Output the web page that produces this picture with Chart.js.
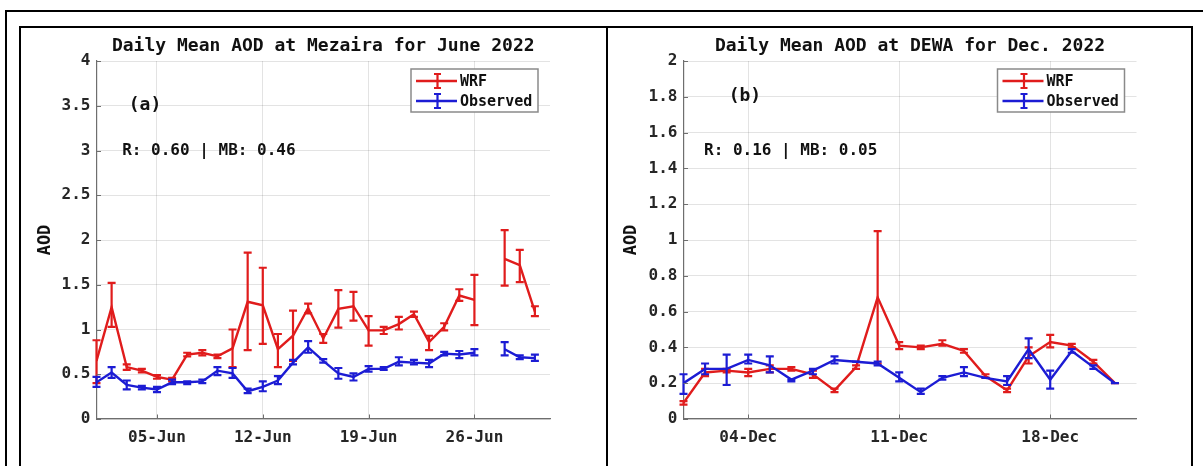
<!DOCTYPE html>
<html>
<head>
<meta charset="utf-8">
<script src="https://cdn.jsdelivr.net/npm/chart.js@4.4.0/dist/chart.umd.min.js"></script>
<style>
  html, body { margin: 0; padding: 0; background: #fff; }
  body { width: 1203px; height: 466px; position: relative; overflow: hidden; }
  #outer { position: absolute; left: 5px; top: 10px; width: 1300px; height: 600px; border-left: 2px solid #000; border-top: 2.5px solid #000; }
  #frame { position: absolute; left: 19px; top: 26px; width: 1170px; height: 600px; border: 2px solid #000; }
  #divider { position: absolute; left: 606px; top: 26px; width: 2px; height: 600px; background: #000; }
  canvas { position: absolute; top: 28px; }
  #chartA { left: 21px; }
  #chartB { left: 608px; }
</style>
</head>
<body>
<div id="outer"></div>
<div id="frame"></div>
<div id="divider"></div>
<canvas id="chartA" width="585" height="438"></canvas>
<canvas id="chartB" width="583" height="438"></canvas>
<script>
// June 2022, Mezaira (day of month)
const juneDays = [1,2,3,4,5,6,7,8,9,10,11,12,13,14,15,16,17,18,19,20,21,22,23,24,25,26,27,28,29,30];
const juneWrf   = [0.65,1.25,0.58,0.54,0.47,0.44,0.72,0.74,0.70,0.79,1.31,1.27,0.78,0.93,1.24,0.90,1.23,1.26,0.99,0.99,1.06,1.17,0.86,1.03,1.38,1.33,null,1.79,1.72,1.20];
const juneWrfLo = [0.40,1.03,0.55,0.52,0.45,0.42,0.70,0.71,0.68,0.58,0.77,0.84,0.58,0.65,1.18,0.85,1.02,1.10,0.82,0.95,1.00,1.14,0.77,0.99,1.32,1.05,null,1.49,1.53,1.15];
const juneWrfHi = [0.88,1.52,0.61,0.56,0.49,0.46,0.74,0.77,0.72,1.00,1.86,1.69,0.95,1.21,1.29,0.95,1.44,1.42,1.15,1.03,1.14,1.20,0.93,1.07,1.45,1.61,null,2.11,1.89,1.26];
const juneObs   = [0.41,0.52,0.38,0.35,0.33,0.41,0.41,0.42,0.54,0.51,0.31,0.36,0.43,0.63,0.80,0.65,0.51,0.47,0.56,0.56,0.64,0.63,0.62,0.73,0.72,0.74,null,0.78,0.69,0.68];
const juneObsLo = [0.36,0.46,0.33,0.33,0.30,0.39,0.39,0.40,0.49,0.46,0.29,0.31,0.39,0.61,0.74,0.63,0.45,0.43,0.53,0.55,0.60,0.61,0.58,0.71,0.68,0.71,null,0.71,0.67,0.65];
const juneObsHi = [0.47,0.58,0.43,0.37,0.36,0.44,0.42,0.44,0.58,0.57,0.34,0.42,0.48,0.66,0.87,0.67,0.57,0.51,0.59,0.58,0.69,0.66,0.66,0.75,0.76,0.78,null,0.86,0.71,0.72];
const juneTickDays = [5, 12, 19, 26];
const juneTickLabels = ["05-Jun", "12-Jun", "19-Jun", "26-Jun"];

// December 2022, DEWA
const decDays = [1,2,3,4,5,6,7,8,9,10,11,12,13,14,15,16,17,18,19,20,21];
const decWrf   = [0.09,0.26,0.27,0.26,0.28,0.28,0.25,0.16,0.29,0.68,0.41,0.40,0.42,0.38,0.24,0.16,0.35,0.43,0.41,0.32,0.20];
const decWrfLo = [0.08,0.24,0.26,0.24,0.26,0.27,0.23,0.15,0.28,0.31,0.39,0.39,0.41,0.37,0.23,0.15,0.31,0.40,0.40,0.31,0.20];
const decWrfHi = [0.10,0.28,0.28,0.28,0.30,0.29,0.27,0.17,0.30,1.05,0.43,0.41,0.44,0.39,0.25,0.17,0.40,0.47,0.42,0.33,0.20];
const decObs   = [0.20,0.28,0.28,0.33,0.30,0.22,0.27,0.33,0.32,0.31,0.23,0.15,0.23,0.26,0.23,0.21,0.39,0.22,0.38,0.29,0.20];
const decObsLo = [0.14,0.25,0.19,0.31,0.26,0.21,0.25,0.31,0.32,0.30,0.21,0.14,0.22,0.24,0.23,0.19,0.34,0.17,0.37,0.28,0.20];
const decObsHi = [0.25,0.31,0.36,0.36,0.35,0.22,0.28,0.35,0.32,0.32,0.26,0.17,0.24,0.29,0.23,0.24,0.45,0.27,0.39,0.30,0.20];
const decTickDays = [4, 11, 18];
const decTickLabels = ["04-Dec", "11-Dec", "18-Dec"];

const RED = "#e01c1c";
const BLUE = "#1c1cd4";
const FONT = "'DejaVu Sans Mono', monospace";

// error bars, inward ticks, title, text and legend
const aodPlugin = {
  id: "aod",
  afterDatasetDraw(chart, args) {
    const ds = chart.data.datasets[args.index];
    const { ctx, scales: { x, y } } = chart;
    ctx.save();
    ctx.strokeStyle = ds.borderColor;
    ctx.lineWidth = 2.2;
    ds.data.forEach((p, i) => {
      if (p.y == null) return;
      const px = x.getPixelForValue(p.x);
      const y1 = y.getPixelForValue(ds.lo[i]);
      const y2 = y.getPixelForValue(ds.hi[i]);
      ctx.beginPath();
      ctx.moveTo(px, y1); ctx.lineTo(px, y2);
      ctx.moveTo(px - 4, y1); ctx.lineTo(px + 4, y1);
      ctx.moveTo(px - 4, y2); ctx.lineTo(px + 4, y2);
      ctx.stroke();
    });
    ctx.restore();
  },
  afterDraw(chart, args, opts) {
    const { ctx, chartArea: a, scales: { x, y } } = chart;
    ctx.save();
    // inward tick marks
    ctx.strokeStyle = "#6e6e6e";
    ctx.lineWidth = 1;
    ctx.beginPath();
    y.ticks.forEach(t => {
      const py = Math.round(y.getPixelForValue(t.value)) + 0.5;
      ctx.moveTo(a.left, py); ctx.lineTo(a.left + 4.5, py);
    });
    x.ticks.forEach(t => {
      const px = Math.round(x.getPixelForValue(t.value)) + 0.5;
      ctx.moveTo(px, a.bottom); ctx.lineTo(px, a.bottom - 4.5);
    });
    ctx.stroke();

    ctx.fillStyle = "#111";
    ctx.textBaseline = "middle";
    // title
    ctx.font = "bold 18px " + FONT;
    ctx.textAlign = "center";
    ctx.fillText(opts.title, (a.left + a.right) / 2, 18);
    // panel tag and stats
    ctx.textAlign = "left";
    ctx.font = "bold 18px " + FONT;
    ctx.fillText(opts.tag[0], x.getPixelForValue(opts.tag[1]) + 2, y.getPixelForValue(opts.tag[2]));
    ctx.font = "bold 16px " + FONT;
    ctx.fillText(opts.stats[0], x.getPixelForValue(opts.stats[1]), y.getPixelForValue(opts.stats[2]));

    // legend box
    const bx = a.right - 139, by = a.top + 8, bw = 127, bh = 43;
    ctx.fillStyle = "#fff";
    ctx.fillRect(bx, by, bw, bh);
    ctx.strokeStyle = "#8a8a8a";
    ctx.lineWidth = 1.5;
    ctx.strokeRect(bx, by, bw, bh);
    const items = chart.data.datasets.map(d => [d.label, d.borderColor]);
    items.forEach(([label, color], i) => {
      const ly = by + 12 + i * 20;
      const cx = bx + 26.5;
      ctx.strokeStyle = color;
      ctx.lineWidth = 2.4;
      ctx.beginPath();
      ctx.moveTo(bx + 5, ly); ctx.lineTo(bx + 46, ly);
      ctx.stroke();
      ctx.lineWidth = 2.2;
      ctx.beginPath();
      ctx.moveTo(cx, ly - 7); ctx.lineTo(cx, ly + 7);
      ctx.moveTo(cx - 3.5, ly - 7); ctx.lineTo(cx + 3.5, ly - 7);
      ctx.moveTo(cx - 3.5, ly + 7); ctx.lineTo(cx + 3.5, ly + 7);
      ctx.stroke();
      ctx.fillStyle = "#111";
      ctx.font = "bold 15px " + FONT;
      ctx.fillText(label, bx + 49, ly + 1.5);
    });
    ctx.restore();
  }
};

function points(days, vals) {
  return days.map((d, i) => ({ x: d, y: vals[i] }));
}

function makeChart(id, cfg) {
  const tickFont = { family: FONT, size: 16, weight: "bold" };
  return new Chart(document.getElementById(id), {
    type: "line",
    data: {
      datasets: [
        { label: "WRF", data: points(cfg.days, cfg.wrf), lo: cfg.wrfLo, hi: cfg.wrfHi,
          borderColor: RED, borderWidth: 2.4, pointRadius: 0, tension: 0, spanGaps: false, order: 2 },
        { label: "Observed", data: points(cfg.days, cfg.obs), lo: cfg.obsLo, hi: cfg.obsHi,
          borderColor: BLUE, borderWidth: 2.4, pointRadius: 0, tension: 0, spanGaps: false, order: 1 }
      ]
    },
    options: {
      responsive: false,
      animation: false,
      devicePixelRatio: 1,
      layout: { padding: { left: 0, right: cfg.padRight, top: 33, bottom: 0 } },
      plugins: {
        legend: { display: false },
        tooltip: { enabled: false },
        aod: { title: cfg.title, tag: cfg.tag, stats: cfg.stats }
      },
      scales: {
        x: {
          type: "linear",
          min: cfg.xMin,
          max: cfg.xMax,
          afterBuildTicks: s => { s.ticks = cfg.tickDays.map(v => ({ value: v })); },
          afterFit: s => { s.height = 47; },
          ticks: {
            font: tickFont, color: "#262626", padding: 9, maxRotation: 0,
            callback: v => cfg.tickLabels[cfg.tickDays.indexOf(v)]
          },
          grid: { color: "rgba(38,38,38,0.13)", lineWidth: 1, drawTicks: false },
          border: { color: "#6e6e6e", width: 1.2 }
        },
        y: {
          min: 0,
          max: cfg.yMax,
          afterFit: s => { s.width = 75.5; },
          ticks: {
            stepSize: cfg.yStep, font: tickFont, color: "#262626", padding: 6,
            callback: v => String(+v.toFixed(2))
          },
          grid: { color: "rgba(38,38,38,0.13)", lineWidth: 1, drawTicks: false },
          border: { color: "#6e6e6e", width: 1.2 },
          title: { display: true, text: "AOD", color: "#111",
            font: { family: FONT, size: 17, weight: "bold" }, padding: { top: cfg.titlePad, bottom: 0 } }
        }
      }
    },
    plugins: [aodPlugin]
  });
}

makeChart("chartA", {
  days: juneDays, wrf: juneWrf, wrfLo: juneWrfLo, wrfHi: juneWrfHi,
  obs: juneObs, obsLo: juneObsLo, obsHi: juneObsHi,
  tickDays: juneTickDays, tickLabels: juneTickLabels,
  xMin: 1, xMax: 31, yMax: 4, yStep: 0.5, padRight: 56, titlePad: 14.8,
  title: "Daily Mean AOD at Mezaira for June 2022",
  tag: ["(a)", 3, 3.5],
  stats: ["R: 0.60 | MB: 0.46", 2.7, 3.0]
});

makeChart("chartB", {
  days: decDays, wrf: decWrf, wrfLo: decWrfLo, wrfHi: decWrfHi,
  obs: decObs, obsLo: decObsLo, obsHi: decObsHi,
  tickDays: decTickDays, tickLabels: decTickLabels,
  xMin: 1, xMax: 22, yMax: 2, yStep: 0.2, padRight: 54.5, titlePad: 13.8,
  title: "Daily Mean AOD at DEWA for Dec. 2022",
  tag: ["(b)", 3, 1.8],
  stats: ["R: 0.16 | MB: 0.05", 1.95, 1.5]
});
</script>
</body>
</html>
